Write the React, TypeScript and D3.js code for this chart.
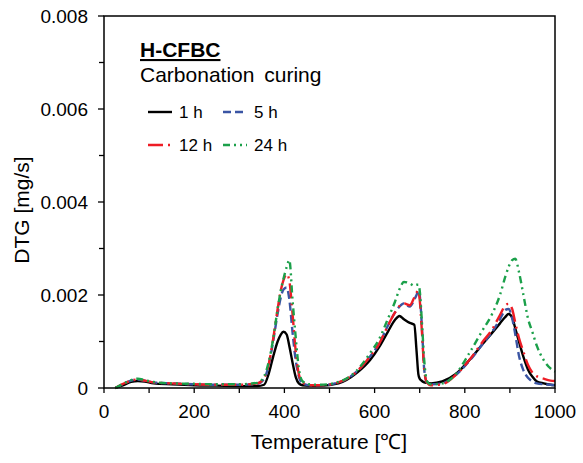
import React from "react";
import * as d3 from "d3";

const temps = [25, 40, 60, 75, 90, 110, 150, 200, 250, 300, 340, 355, 365, 375, 385, 392, 398, 405, 411, 418, 425, 432, 440, 455, 480, 520, 560, 590, 610, 630, 645, 655, 665, 678, 688, 693, 697, 700, 705, 710, 716, 725, 750, 780, 810, 840, 860, 878, 890, 897, 905, 912, 920, 930, 940, 950, 960, 975, 990, 1000];

const h1 = [0, 0.00005, 0.00013, 0.00015, 0.00014, 0.0001, 0.00008, 0.00006, 0.00005, 0.00004, 0.00004, 0.00007, 0.0003, 0.00067, 0.001, 0.00115, 0.00121, 0.00115, 0.0009, 0.00055, 0.00024, 0.0001, 0.00006, 0.00005, 0.00005, 0.0001, 0.00032, 0.0006, 0.00088, 0.00122, 0.00146, 0.00155, 0.00148, 0.0014, 0.00136, 0.0008, 0.0003, 0.0002, 0.00015, 0.00012, 0.00011, 0.0001, 0.00014, 0.0003, 0.0006, 0.00095, 0.00118, 0.00139, 0.00153, 0.00159, 0.00152, 0.00128, 0.001, 0.00067, 0.0004, 0.00024, 0.00014, 0.0001, 0.00007, 0.00006];

const h5 = [0, 0.00007, 0.00016, 0.00018, 0.00016, 0.00012, 0.0001, 0.00008, 0.00007, 0.00007, 0.00009, 0.0002, 0.00048, 0.001, 0.0016, 0.00195, 0.00212, 0.00216, 0.0019, 0.0012, 0.0006, 0.00025, 0.0001, 0.00006, 0.00006, 0.00012, 0.00035, 0.00068, 0.00095, 0.00135, 0.00162, 0.00175, 0.00182, 0.00175, 0.0019, 0.002, 0.0021, 0.002, 0.0013, 0.0004, 0.00012, 0.00008, 0.0001, 0.00028, 0.00058, 0.00095, 0.0012, 0.00148, 0.00168, 0.0017, 0.0015, 0.00115, 0.0007, 0.00038, 0.00022, 0.00014, 0.0001, 0.00008, 0.00007, 0.00006];

const h12 = [0, 0.00008, 0.00016, 0.00018, 0.00016, 0.00012, 0.0001, 0.00008, 0.00007, 0.00007, 0.0001, 0.00022, 0.0005, 0.00105, 0.0017, 0.0021, 0.00232, 0.00245, 0.0023, 0.0016, 0.0008, 0.0003, 0.00012, 0.00006, 0.00006, 0.00012, 0.00035, 0.00068, 0.00095, 0.00135, 0.00162, 0.00176, 0.00182, 0.00178, 0.00195, 0.00205, 0.0021, 0.0019, 0.0012, 0.0004, 0.00012, 0.00006, 0.00008, 0.00028, 0.0006, 0.001, 0.00125, 0.00157, 0.00178, 0.00181, 0.0017, 0.0014, 0.00108, 0.00078, 0.0005, 0.00033, 0.00025, 0.0002, 0.00016, 0.00015];

const h24 = [0, 0.00008, 0.00017, 0.0002, 0.00017, 0.00013, 0.0001, 0.00009, 0.00008, 0.00008, 0.00011, 0.00025, 0.00055, 0.00105, 0.0017, 0.0021, 0.00235, 0.0026, 0.00275, 0.0019, 0.0011, 0.00042, 0.00015, 0.00008, 0.00007, 0.00013, 0.00037, 0.00075, 0.00105, 0.0015, 0.00185, 0.00212, 0.00228, 0.00225, 0.0022, 0.00222, 0.00222, 0.0021, 0.0014, 0.0006, 0.00015, 0.00008, 0.0001, 0.0003, 0.00075, 0.00125, 0.00158, 0.002, 0.0024, 0.0026, 0.00275, 0.00278, 0.0025, 0.002, 0.0015, 0.0012, 0.0009, 0.0006, 0.00042, 0.00035];

const xTicks = [0, 200, 400, 600, 800, 1000];
const xMinor = [100, 300, 500, 700, 900];
const yTicks = [0, 0.002, 0.004, 0.006, 0.008];
const yTickLabels = ["0", "0.002", "0.004", "0.006", "0.008"];
const yMinor = [0.001, 0.003, 0.005, 0.007];

const seriesNames = ["1 h", "5 h", "12 h", "24 h"];
const seriesValues = [h1, h5, h12, h24];
const seriesColors = ["#000000", "#3A55A4", "#EE1C25", "#1BA04A"];
const seriesDash = ["", "8,4", "15,5,2,5", "7,4,2,4,2,4"];

const FONT = "'Liberation Sans', Arial, sans-serif";

export default function App() {
  const L = 104, R = 555, T = 16, B = 388;
  const x = d3.scaleLinear().domain([0, 1000]).range([L, R]);
  const y = d3.scaleLinear().domain([0, 0.008]).range([B, T]);
  const line = d3
    .line<[number, number]>()
    .x((d) => x(d[0]))
    .y((d) => y(d[1]))
    .curve(d3.curveMonotoneX);

  const legendPos = [
    { lx: 148, ly: 112 },
    { lx: 223, ly: 112 },
    { lx: 148, ly: 145 },
    { lx: 223, ly: 145 },
  ];

  return (
    <svg width={583} height={463} style={{ position: "absolute", left: 0, top: 0, background: "#fff" }} fontFamily={FONT}>
      <rect x={0} y={0} width={583} height={463} fill="#fff" />
      {seriesValues.map((vals, i) => (
        <path
          key={i}
          d={line(temps.map((t, j) => [t, vals[j]] as [number, number])) || ""}
          fill="none"
          stroke={seriesColors[i]}
          strokeWidth={2.4}
          strokeDasharray={seriesDash[i]}
          strokeLinejoin="round"
        />
      ))}
      <rect x={L} y={T} width={R - L} height={B - T} fill="none" stroke="#000" strokeWidth={1.5} />
      {xTicks.map((t) => (
        <g key={"x" + t}>
          <line x1={x(t)} x2={x(t)} y1={B} y2={B + 5} stroke="#000" strokeWidth={1.3} />
          <text x={x(t)} y={418} textAnchor="middle" fontSize={19}>{t}</text>
        </g>
      ))}
      {xMinor.map((t) => (
        <line key={"xm" + t} x1={x(t)} x2={x(t)} y1={B} y2={B + 5} stroke="#000" strokeWidth={1.3} />
      ))}
      {yTicks.map((t, i) => (
        <g key={"y" + t}>
          <line x1={L - 6} x2={L} y1={y(t)} y2={y(t)} stroke="#000" strokeWidth={1.3} />
          <text x={88} y={y(t) + 7} textAnchor="end" fontSize={19}>{yTickLabels[i]}</text>
        </g>
      ))}
      {yMinor.map((t) => (
        <line key={"ym" + t} x1={L - 5} x2={L} y1={y(t)} y2={y(t)} stroke="#000" strokeWidth={1.3} />
      ))}
      <text x={329} y={449} textAnchor="middle" fontSize={21}>Temperature [℃]</text>
      <text transform="translate(29,210) rotate(-90)" textAnchor="middle" fontSize={21}>DTG [mg/s]</text>
      <text x={140} y={57} fontSize={21} fontWeight="bold" textDecoration="underline">H-CFBC</text>
      <text x={140} y={82} fontSize={21}>Carbonation<tspan dx={4}> curing</tspan></text>
      {seriesNames.map((n, i) => (
        <g key={n}>
          <line
            x1={legendPos[i].lx}
            x2={legendPos[i].lx + 24}
            y1={legendPos[i].ly}
            y2={legendPos[i].ly}
            stroke={seriesColors[i]}
            strokeWidth={2.4}
            strokeDasharray={seriesDash[i]}
          />
          <text x={legendPos[i].lx + 31} y={legendPos[i].ly + 6} fontSize={17}>{n}</text>
        </g>
      ))}
    </svg>
  );
}
